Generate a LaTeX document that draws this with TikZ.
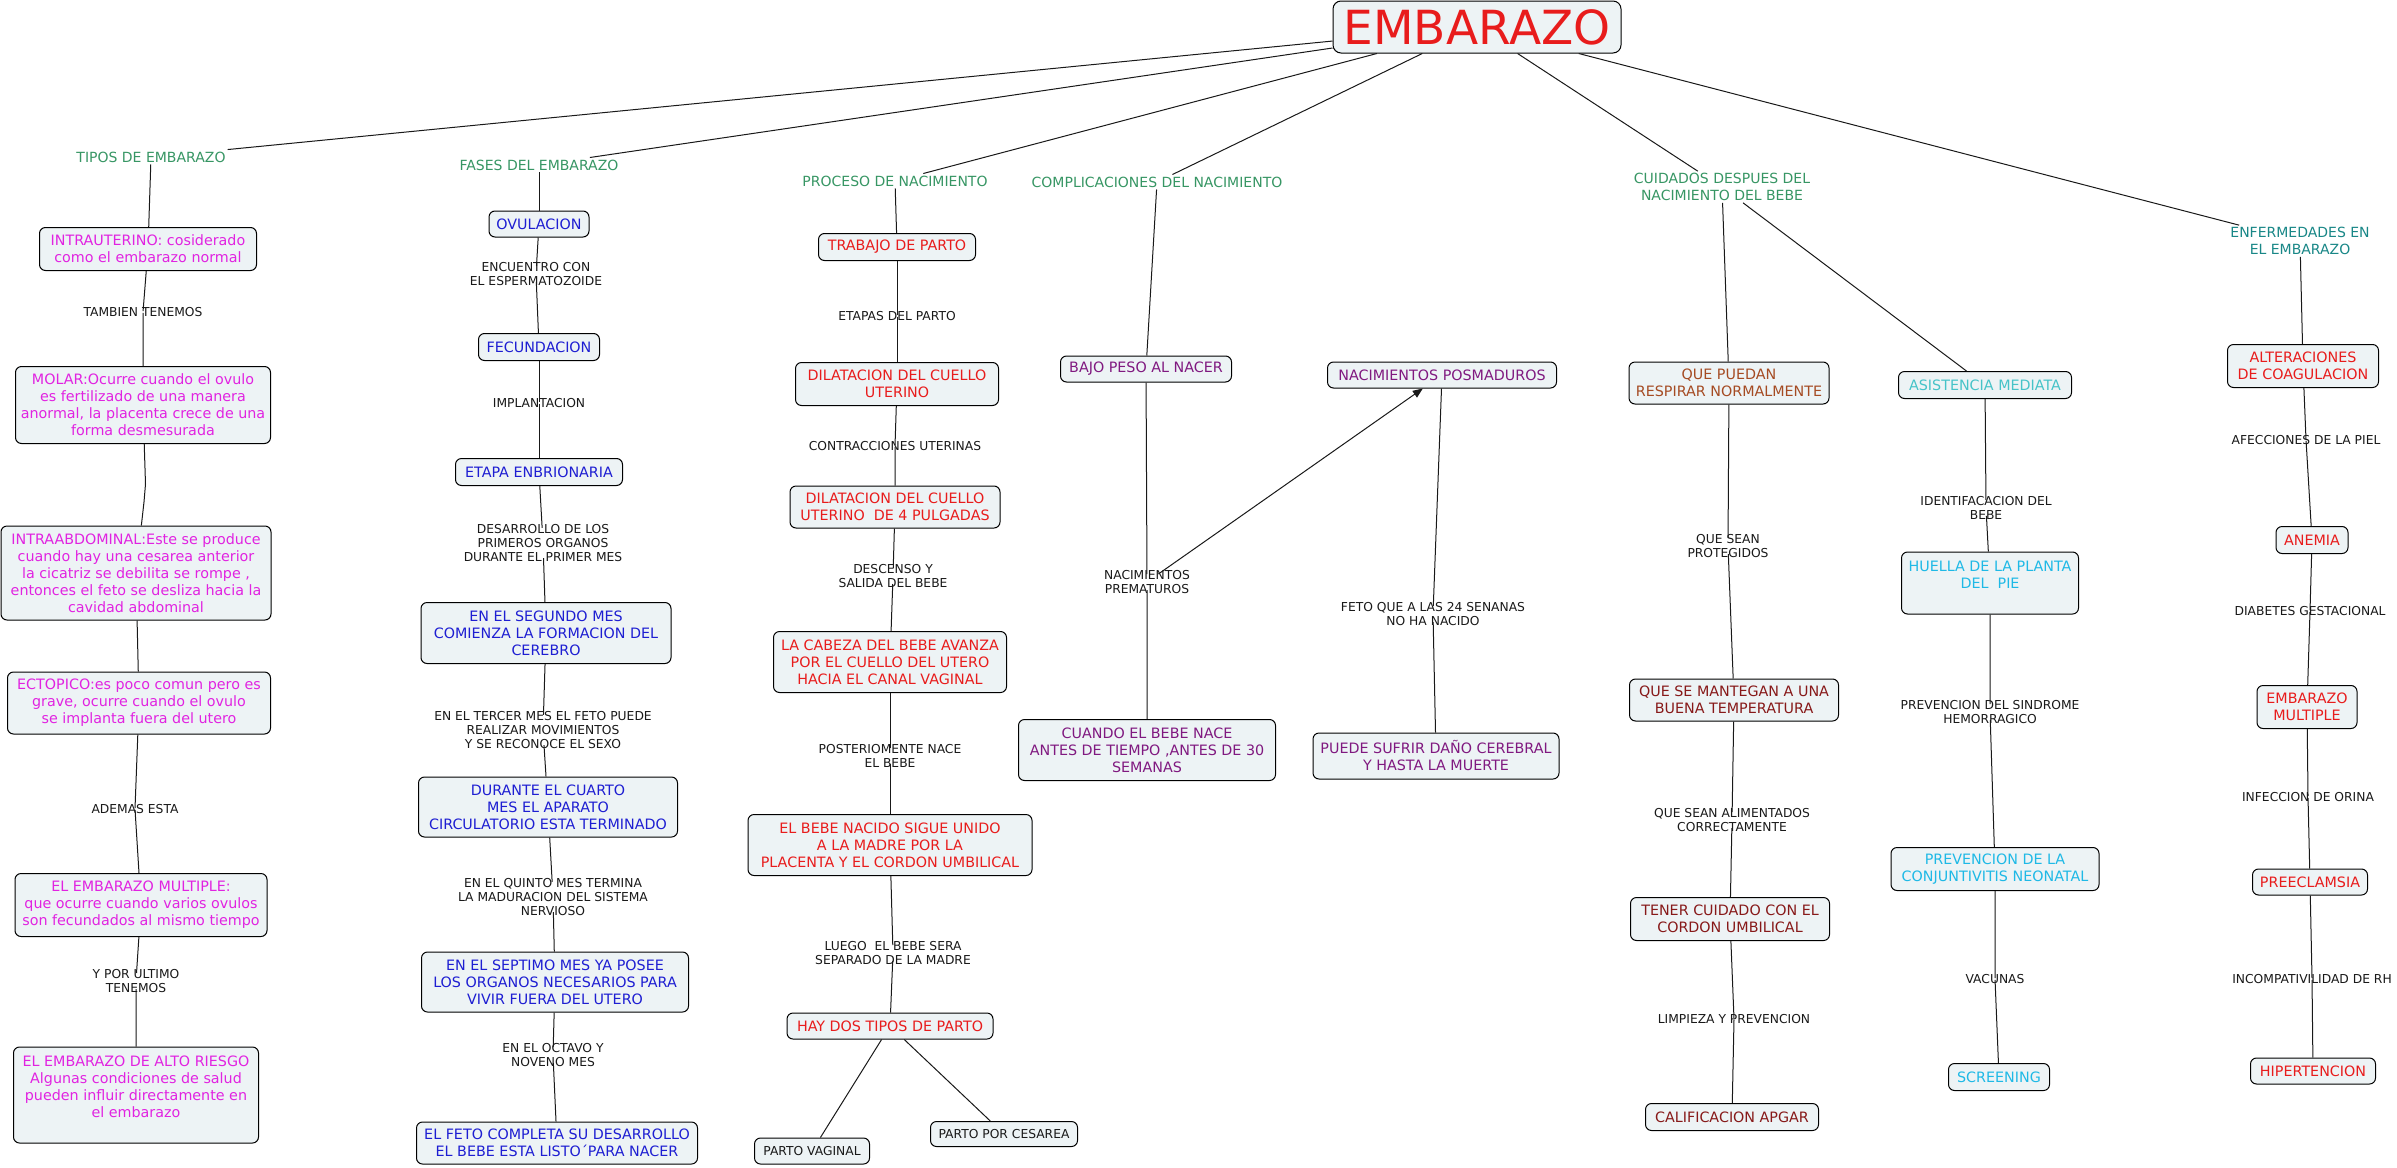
\documentclass[tikz,border=0pt]{standalone}
\usepackage{fontspec}
\setmainfont{DejaVu Sans}
\usetikzlibrary{arrows.meta}
\definecolor{pinkc}{RGB}{225,35,225}
\definecolor{bluec}{RGB}{30,30,210}
\definecolor{redc}{RGB}{232,28,28}
\definecolor{purplec}{RGB}{128,25,128}
\definecolor{siennac}{RGB}{165,75,35}
\definecolor{darkredc}{RGB}{135,25,25}
\definecolor{turqc}{RGB}{70,195,200}
\definecolor{skyc}{RGB}{30,185,230}
\definecolor{headc}{RGB}{55,150,100}
\definecolor{tealc}{RGB}{25,135,135}
\definecolor{fillc}{RGB}{237,243,245}
\newcommand\boxfont{\fontsize{14.3}{17}\selectfont}
\newcommand\labfont{\fontsize{12.3}{14.3}\selectfont}
\newcommand\headfont{\fontsize{14}{16.7}\selectfont}
\newcommand\titlefont{\fontsize{47}{50}\selectfont}
\tikzset{
  bx/.style={draw=black, line width=1pt, rounded corners=6pt, fill=fillc, align=center, inner xsep=3pt, inner ysep=2pt, font=\boxfont},
  sz/.style 2 args={minimum width=#1pt, minimum height=#2pt},
  lab/.style={align=center, inner xsep=0pt, inner ysep=-4pt, font=\labfont, text=black!90},
  hd/.style={align=center, inner sep=2pt, font=\headfont, text=headc},
  cn/.style={draw=black!90, line width=1pt},
}
\begin{document}
\begin{tikzpicture}[x=1pt,y=-1pt]
\useasboundingbox (0,0) rectangle (2397,1167);
\fill[white] (0,0) rectangle (2397,1167);

% title
\node[bx, text=redc, font=\titlefont, rounded corners=8pt, sz={288}{52}, inner ysep=0pt] (title) at (1477,27) {EMBARAZO};

% headings
\node[hd] (h1) at (151,157) {TIPOS DE EMBARAZO};
\node[hd] (h2) at (539,165) {FASES DEL EMBARAZO};
\node[hd] (h3) at (895,181) {PROCESO DE NACIMIENTO};
\node[hd] (h4) at (1157,182) {COMPLICACIONES DEL NACIMIENTO};
\node[hd] (h5) at (1722,187) {CUIDADOS DESPUES DEL\\NACIMIENTO DEL BEBE};
\node[hd, text=tealc] (h6) at (2300,241) {ENFERMEDADES EN\\EL EMBARAZO};

% TIPOS column
\node[bx, text=pinkc, sz={217}{43}] (t1) at (148,249) {INTRAUTERINO: cosiderado\\como el embarazo normal};
\node[bx, text=pinkc, sz={255}{77}] (t2) at (143,405) {MOLAR:Ocurre cuando el ovulo\\es fertilizado de una manera\\anormal, la placenta crece de una\\forma desmesurada};
\node[bx, text=pinkc, sz={270}{94}] (t3) at (136,573) {INTRAABDOMINAL:Este se produce\\cuando hay una cesarea anterior\\la cicatriz se debilita se rompe ,\\entonces el feto se desliza hacia la\\cavidad abdominal};
\node[bx, text=pinkc, sz={263}{62}] (t4) at (139,703) {ECTOPICO:es poco comun pero es\\grave, ocurre cuando el ovulo\\se implanta fuera del utero};
\node[bx, text=pinkc, sz={252}{63}] (t5) at (141,905) {EL EMBARAZO MULTIPLE:\\que ocurre cuando varios ovulos\\son fecundados al mismo tiempo};
\node[bx, text=pinkc, sz={245}{96}] (t6) at (136,1095) {EL EMBARAZO DE ALTO RIESGO\\Algunas condiciones de salud\\pueden influir directamente en\\el embarazo\\~};
\node[lab] (l1) at (143,312) {TAMBIEN TENEMOS};
\node[lab] (l2) at (135,809) {ADEMAS ESTA};
\node[lab] (l3) at (136,981) {Y POR ULTIMO\\TENEMOS};
\coordinate (ja) at (145.5,484);
\coordinate (jb) at (144,502);

% FASES column
\node[bx, text=bluec, sz={100}{26}] (f1) at (539,224) {OVULACION};
\node[bx, text=bluec, sz={121}{27}] (f2) at (539,347) {FECUNDACION};
\node[bx, text=bluec, sz={167}{27}] (f3) at (539,472) {ETAPA ENBRIONARIA};
\node[bx, text=bluec, sz={250}{61}] (f4) at (546,633) {EN EL SEGUNDO MES\\COMIENZA LA FORMACION DEL\\CEREBRO};
\node[bx, text=bluec, sz={259}{60}] (f5) at (548,807) {DURANTE EL CUARTO\\MES EL APARATO\\CIRCULATORIO ESTA TERMINADO};
\node[bx, text=bluec, sz={267}{60}] (f6) at (555,982) {EN EL SEPTIMO MES YA POSEE\\LOS ORGANOS NECESARIOS PARA\\VIVIR FUERA DEL UTERO};
\node[bx, text=bluec, sz={281}{42}] (f7) at (557,1143) {EL FETO COMPLETA SU DESARROLLO\\EL BEBE ESTA LISTO´PARA NACER};
\node[lab] (lf1) at (536,274) {ENCUENTRO CON\\EL ESPERMATOZOIDE};
\node[lab] (lf2) at (539,403) {IMPLANTACION};
\node[lab] (lf3) at (543,543) {DESARROLLO DE LOS\\PRIMEROS ORGANOS\\DURANTE EL PRIMER MES};
\node[lab] (lf4) at (543,730) {EN EL TERCER MES EL FETO PUEDE\\REALIZAR MOVIMIENTOS\\Y SE RECONOCE EL SEXO};
\node[lab] (lf5) at (553,897) {EN EL QUINTO MES TERMINA\\LA MADURACION DEL SISTEMA\\NERVIOSO};
\node[lab] (lf6) at (553,1055) {EN EL OCTAVO Y\\NOVENO MES};

% PROCESO column
\node[bx, text=redc, sz={157}{27}] (p1) at (897,247) {TRABAJO DE PARTO};
\node[bx, text=redc, sz={203}{43}] (p2) at (897,384) {DILATACION DEL CUELLO\\UTERINO};
\node[bx, text=redc, sz={210}{42}] (p3) at (895,507) {DILATACION DEL CUELLO\\UTERINO\ \ DE 4 PULGADAS};
\node[bx, text=redc, sz={233}{61}] (p4) at (890,662) {LA CABEZA DEL BEBE AVANZA\\POR EL CUELLO DEL UTERO\\HACIA EL CANAL VAGINAL};
\node[bx, text=redc, sz={284}{61}] (p5) at (890,845) {EL BEBE NACIDO SIGUE UNIDO\\A LA MADRE POR LA\\PLACENTA Y EL CORDON UMBILICAL};
\node[bx, text=redc, sz={206}{26}] (p6) at (890,1026) {HAY DOS TIPOS DE PARTO};
\node[bx, text=black!90, font=\labfont, sz={115}{26}] (p7) at (812,1151) {PARTO VAGINAL};
\node[bx, text=black!90, font=\labfont, sz={147}{25}] (p8) at (1004,1134) {PARTO POR CESAREA};
\node[lab] (lp1) at (897,316) {ETAPAS DEL PARTO};
\node[lab] (lp2) at (895,446) {CONTRACCIONES UTERINAS};
\node[lab] (lp3) at (893,576) {DESCENSO Y\\SALIDA DEL BEBE};
\node[lab] (lp4) at (890,756) {POSTERIOMENTE NACE\\EL BEBE};
\node[lab] (lp5) at (893,953) {LUEGO\ \ EL BEBE SERA\\SEPARADO DE LA MADRE};

% COMPLICACIONES column
\node[bx, text=purplec, sz={171}{26}] (c1) at (1146,369) {BAJO PESO AL NACER};
\node[bx, text=purplec, sz={257}{61}] (c2) at (1147,750) {CUANDO EL BEBE NACE\\ANTES DE TIEMPO ,ANTES DE 30\\SEMANAS};
\node[bx, text=purplec, sz={229}{26}] (c3) at (1442,375) {NACIMIENTOS POSMADUROS};
\node[bx, text=purplec, sz={246}{46}] (c4) at (1436,756) {PUEDE SUFRIR DAÑO CEREBRAL\\Y HASTA LA MUERTE};
\node[lab] (lc1) at (1147,582) {NACIMIENTOS\\PREMATUROS};
\node[lab] (lc2) at (1433,614) {FETO QUE A LAS 24 SENANAS\\NO HA NACIDO};

% CUIDADOS columns
\node[bx, text=siennac, sz={200}{42}] (d1) at (1729,383) {QUE PUEDAN\\RESPIRAR NORMALMENTE};
\node[bx, text=darkredc, sz={209}{42}] (d2) at (1734,700) {QUE SE MANTEGAN A UNA\\BUENA TEMPERATURA};
\node[bx, text=darkredc, sz={199}{43}] (d3) at (1730,919) {TENER CUIDADO CON EL\\CORDON UMBILICAL};
\node[bx, text=darkredc, sz={173}{27}] (d4) at (1732,1117) {CALIFICACION APGAR};
\node[lab] (ld1) at (1728,546) {QUE SEAN\\PROTEGIDOS};
\node[lab] (ld2) at (1732,820) {QUE SEAN ALIMENTADOS\\CORRECTAMENTE};
\node[lab] (ld3) at (1734,1019) {LIMPIEZA Y PREVENCION};

\node[bx, text=turqc, sz={173}{27}] (e1) at (1985,385) {ASISTENCIA MEDIATA};
\node[bx, text=skyc, sz={177}{62}] (e2) at (1990,583) {HUELLA DE LA PLANTA\\DEL\ \ PIE\\~};
\node[bx, text=skyc, sz={208}{43}] (e3) at (1995,869) {PREVENCION DE LA\\CONJUNTIVITIS NEONATAL};
\node[bx, text=skyc, sz={101}{27}] (e4) at (1999,1077) {SCREENING};
\node[lab] (le1) at (1986,508) {IDENTIFACACION DEL\\BEBE};
\node[lab] (le2) at (1990,712) {PREVENCION DEL SINDROME\\HEMORRAGICO};
\node[lab] (le3) at (1995,979) {VACUNAS};

% ENFERMEDADES column
\node[bx, text=redc, sz={151}{43}] (g1) at (2303,366) {ALTERACIONES\\DE COAGULACION};
\node[bx, text=redc, sz={72}{27}] (g2) at (2312,540) {ANEMIA};
\node[bx, text=redc, sz={100}{43}] (g3) at (2307,707) {EMBARAZO\\MULTIPLE};
\node[bx, text=redc, sz={115}{26}] (g4) at (2310,882) {PREECLAMSIA};
\node[bx, text=redc, sz={125}{26}] (g5) at (2313,1071) {HIPERTENCION};
\node[lab] (lg1) at (2306,440) {AFECCIONES DE LA PIEL};
\node[lab] (lg2) at (2310,611) {DIABETES GESTACIONAL};
\node[lab] (lg3) at (2308,797) {INFECCION DE ORINA};
\node[lab] (lg4) at (2312,979) {INCOMPATIVILIDAD DE RH};

% connectors from title
\draw[cn] (title) -- (h1);
\draw[cn] (title) -- (h2);
\draw[cn] (title) -- (h3);
\draw[cn] (title) -- (h4);
\draw[cn] (title) -- (h5);
\draw[cn] (title) -- (h6);

% TIPOS
\draw[cn] (h1) -- (t1);
\draw[cn] (t1) -- (l1) -- (t2);
\draw[cn] (t2) -- (ja) -- (jb) -- (t3);
\draw[cn] (t3) -- (t4);
\draw[cn] (t4) -- (l2) -- (t5);
\draw[cn] (t5) -- (l3) -- (t6);

% FASES
\draw[cn] (h2) -- (f1);
\draw[cn] (f1) -- (lf1) -- (f2);
\draw[cn] (f2) -- (lf2) -- (f3);
\draw[cn] (f3) -- (lf3) -- (f4);
\draw[cn] (f4) -- (lf4) -- (f5);
\draw[cn] (f5) -- (lf5) -- (f6);
\draw[cn] (f6) -- (lf6) -- (f7);

% PROCESO
\draw[cn] (h3) -- (p1);
\draw[cn] (p1) -- (lp1) -- (p2);
\draw[cn] (p2) -- (lp2) -- (p3);
\draw[cn] (p3) -- (lp3) -- (p4);
\draw[cn] (p4) -- (lp4) -- (p5);
\draw[cn] (p5) -- (lp5) -- (p6);
\draw[cn] (p6) -- (p7);
\draw[cn] (p6) -- (p8);

% COMPLICACIONES
\draw[cn] (h4) -- (c1);
\draw[cn] (c1) -- (lc1) -- (c2);
\draw[cn, -{Triangle[length=10pt,width=8pt]}] (lc1) -- (c3);
\draw[cn] (c3) -- (lc2) -- (c4);

% CUIDADOS
\draw[cn] (h5) -- (d1);
\draw[cn] (d1) -- (ld1) -- (d2);
\draw[cn] (d2) -- (ld2) -- (d3);
\draw[cn] (d3) -- (ld3) -- (d4);
\draw[cn] (h5) -- (e1);
\draw[cn] (e1) -- (le1) -- (e2);
\draw[cn] (e2) -- (le2) -- (e3);
\draw[cn] (e3) -- (le3) -- (e4);

% ENFERMEDADES
\draw[cn] (h6) -- (g1);
\draw[cn] (g1) -- (lg1) -- (g2);
\draw[cn] (g2) -- (lg2) -- (g3);
\draw[cn] (g3) -- (lg3) -- (g4);
\draw[cn] (g4) -- (lg4) -- (g5);
\end{tikzpicture}
\end{document}
